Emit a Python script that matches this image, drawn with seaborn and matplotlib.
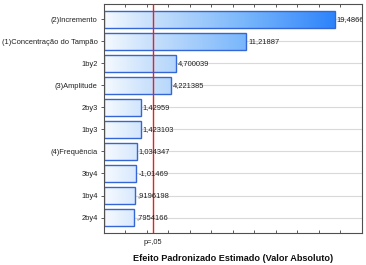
import numpy as np
import pandas as pd
import matplotlib
matplotlib.use('Agg')
import matplotlib.pyplot as plt
import seaborn as sns
from matplotlib.colors import LinearSegmentedColormap
import matplotlib.transforms as mtransforms

sns.set_style('white')
plt.rcParams['font.family'] = ['Liberation Sans', 'DejaVu Sans']

# dados (Pareto dos efeitos padronizados)
efeitos = ['(2)Incremento', '(1)Concentração do Tampão', '1by2', '(3)Amplitude',
           '2by3', '1by3', '(4)Frequência', '3by4', '1by4', '2by4']
valores = [19.4866, 11.21887, 4.700039, 4.221385, 1.42959, 1.423103,
           1.034347, 1.01469, 0.9196198, 0.7954166]
rotulos = ['19,4866', '11,21887', '4,700039', '4,221385', '1,42959', '1,423103',
           '1,034347', '-1,01469', ',9196198', ',7954166']
t_crit = 2.5706
xmin, xmax = -2, 22

df = pd.DataFrame({'efeito': efeitos, 'valor': valores})

fig = plt.figure(figsize=(3.66, 2.65), dpi=100)
ax = fig.add_axes([0.284, 0.121, 0.704, 0.864])

sns.barplot(data=df, x='valor', y='efeito', orient='h', width=0.8,
            color='white', edgecolor='#3566d6', linewidth=1.0, ax=ax, zorder=2)

# gradiente branco -> azul ao longo do eixo x
cmap = LinearSegmentedColormap.from_list(
    'grad', [(0, '#f6faff'), (0.15, '#cfe4fc'), (0.55, '#78b6fb'), (1, '#1774fb')])
grad = np.linspace(0, 1, 256).reshape(1, -1)
for p in ax.patches:
    w = p.get_width()
    p.set_x(xmin)
    p.set_width(w - xmin)
    p.set_facecolor('none')
    y0 = p.get_y()
    h = p.get_height()
    im = ax.imshow(grad, cmap=cmap, aspect='auto', extent=(xmin, xmax, y0 + h, y0),
                   zorder=1.5, interpolation='bilinear')
    im.set_clip_path(p)

ax.set_xlim(xmin, xmax)
ax.set_ylim(len(efeitos) - 1 + 0.7, -0.7)

ax.axvline(t_crit, color='#e82020', lw=1.0, zorder=3)

for i, (v, r) in enumerate(zip(valores, rotulos)):
    ax.text(v + 0.2, i, r, fontsize=5.4, va='center', ha='left', color='#202020',
            clip_on=True, zorder=4)

ax.grid(axis='y', color='#d9d9d9', lw=0.8, zorder=0)
ax.grid(axis='x', visible=False)

ax.set_xticks(np.arange(xmin, xmax + 1, 2))
ax.set_xticklabels([])
ax.tick_params(axis='x', which='both', direction='in', length=2.5, width=0.6,
               top=True, bottom=True, color='#404040')
ax.tick_params(axis='y', direction='out', length=2.5, width=0.6, left=True,
               labelsize=5.45, pad=2, color='#404040', labelcolor='#202020')
# marcas internas à direita
ax2 = ax.secondary_yaxis('right')
ax2.set_yticks(range(len(efeitos)))
ax2.set_yticklabels([])
ax2.tick_params(direction='in', length=2.5, width=0.6, color='#404040')
ax2.spines['right'].set_visible(False)

for s in ax.spines.values():
    s.set_color('#505050')
    s.set_linewidth(0.8)

ax.set_ylabel('')
ax.set_xlabel('Efeito Padronizado Estimado (Valor Absoluto)', fontsize=6.6,
              fontweight='bold', labelpad=12, color='#101010')

trans = mtransforms.blended_transform_factory(ax.transData, ax.transAxes)
ax.text(t_crit, -0.025, 'p=,05', transform=trans, ha='center', va='top',
        fontsize=5.3, color='#202020')

fig.savefig('out.png', dpi=100)
